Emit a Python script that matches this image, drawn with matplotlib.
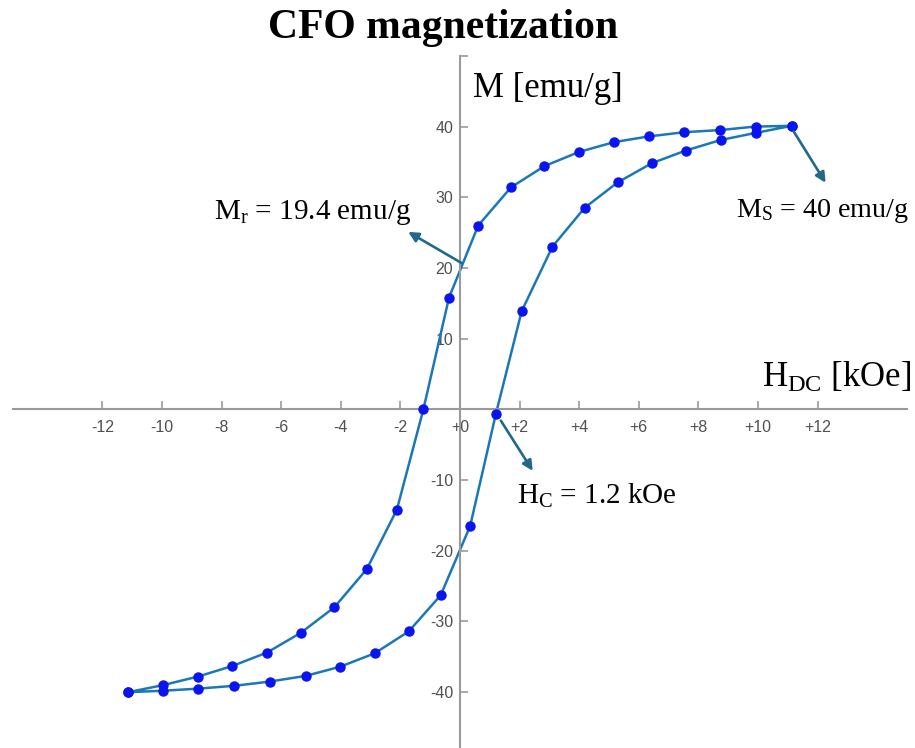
import matplotlib
matplotlib.use('Agg')
import matplotlib.pyplot as plt

plt.rcParams['font.family'] = ['Liberation Serif', 'DejaVu Serif']
plt.rcParams['mathtext.fontset'] = 'custom'
plt.rcParams['mathtext.rm'] = 'Liberation Serif'
plt.rcParams['mathtext.it'] = 'Liberation Serif:italic'

# descending branch (+H -> -H)
H_down = [11.13, 9.92, 8.72, 7.52, 6.33, 5.17, 3.99, 2.83, 1.71, 0.61, -0.37,
          -1.23, -2.12, -3.13, -4.22, -5.34, -6.48, -7.64, -8.80, -9.96, -11.13]
M_down = [40.1, 40.0, 39.5, 39.2, 38.6, 37.8, 36.4, 34.4, 31.4, 26.0, 15.8,
          0.0, -14.2, -22.6, -28.0, -31.6, -34.4, -36.3, -37.8, -39.0, -40.0]
# ascending branch (-H -> +H)
H_up = [-11.13, -9.96, -8.78, -7.57, -6.38, -5.18, -4.02, -2.86, -1.72, -0.65, 0.34,
        1.20, 2.07, 3.10, 4.18, 5.29, 6.43, 7.57, 8.75, 9.92, 11.13]
M_up = [-40.0, -39.8, -39.5, -39.1, -38.5, -37.7, -36.4, -34.5, -31.4, -26.3, -16.5,
        -0.7, 13.9, 23.0, 28.5, 32.1, 34.8, 36.6, 38.1, 39.1, 40.1]

x_ticks = [-12, -10, -8, -6, -4, -2, 0, 2, 4, 6, 8, 10, 12]
x_labels = ['-12', '-10', '-8', '-6', '-4', '-2', '+0', '+2', '+4', '+6', '+8', '+10', '+12']
y_ticks = [-40, -30, -20, -10, 10, 20, 30, 40, 50]
y_labels = ['-40', '-30', '-20', '-10', '10', '20', '30', '40', '']

fig = plt.figure(figsize=(9.15, 7.48), dpi=100)
ax = fig.add_axes([0, 0, 1, 1])

line_c = '#1a78b8'
ax.plot(H_down + H_up, M_down + M_up, '-', color=line_c, lw=1.8, zorder=2)
ax.plot(H_down + H_up, M_down + M_up, 'o', color='#0a14ee', ms=6.5, mec='#0a14ee', zorder=3)

ax.set_xlim(-15.44, 15.27)
ax.set_ylim(-47.9, 57.9)

for s in ['top', 'right']:
    ax.spines[s].set_visible(False)
ax.spines['left'].set_position(('data', 0))
ax.spines['bottom'].set_position(('data', 0))
ax.spines['left'].set_bounds(-60, 50)
ax.spines['bottom'].set_bounds(-15, 15)
for s in ['left', 'bottom']:
    ax.spines[s].set_color('#9a9a9a')
    ax.spines[s].set_linewidth(1.5)

ax.set_xticks(x_ticks)
ax.set_xticklabels(x_labels, fontfamily='Liberation Sans', fontsize=11.5, color='#505050')
ax.set_yticks(y_ticks)
ax.set_yticklabels(y_labels, fontfamily='Liberation Sans', fontsize=11.5, color='#505050')
ax.tick_params(axis='x', direction='in', length=6, width=1.2, color='#9a9a9a', pad=8)
ax.tick_params(axis='y', direction='in', length=5.5, width=1.2, color='#9a9a9a', pad=5)
ax.patch.set_alpha(0)

# axis labels
ax.text(0.44, 44.2, 'M [emu/g]', fontsize=25, va='baseline', ha='left')
ax.text(10.13, 3.16, r'H$_\mathrm{DC}$ [kOe]', fontsize=25, va='baseline', ha='left')

# annotations
arrow_c = '#21688c'
aprops = dict(arrowstyle='-|>', color=arrow_c, lw=1.9, mutation_scale=15, shrinkA=0, shrinkB=0)
ax.text(-8.26, 26.9, r'M$_\mathrm{r}$ = 19.4 emu/g', fontsize=21, va='baseline', ha='left')
ax.annotate('', xy=(-1.74, 25.1), xytext=(0.05, 20.7), arrowprops=aprops)
ax.text(9.27, 27.2, r'M$_\mathrm{S}$ = 40 emu/g', fontsize=20.2, va='baseline', ha='left')
ax.annotate('', xy=(12.27, 32.05), xytext=(11.2, 39.3), arrowprops=aprops)
ax.text(1.91, -13.4, r'H$_\mathrm{C}$ = 1.2 kOe', fontsize=21, va='baseline', ha='left')
ax.annotate('', xy=(2.44, -8.7), xytext=(1.37, -1.6), arrowprops=aprops)

fig.text(443 / 915, 1 - 38 / 748, 'CFO magnetization', fontsize=30, fontweight='bold',
         ha='center', va='baseline')

fig.savefig('out.png', dpi=100)
